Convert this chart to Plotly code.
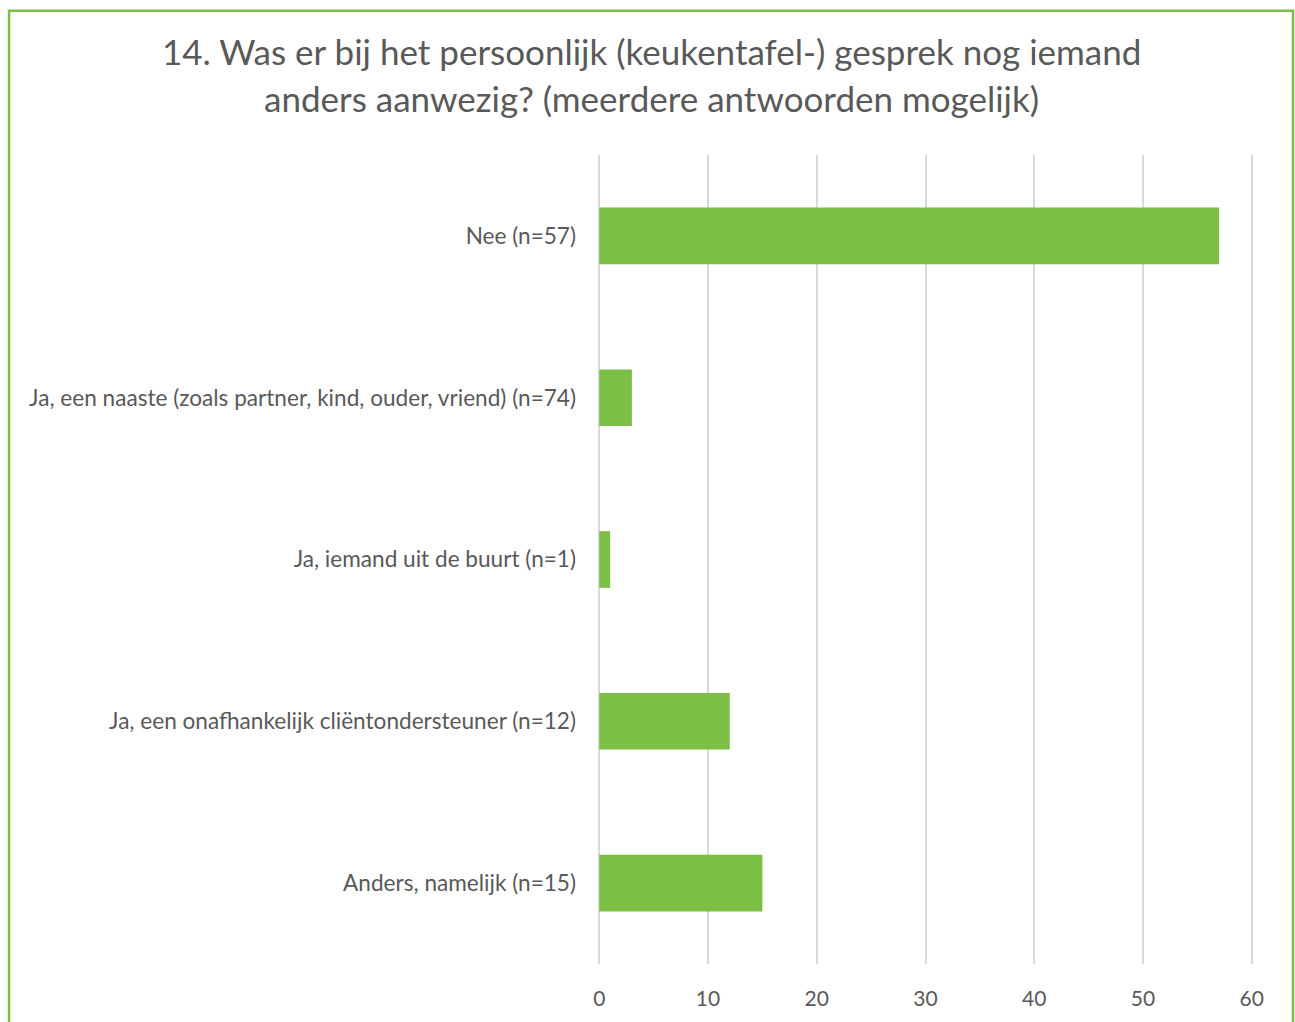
import plotly.graph_objects as go

# Survey answers (top to bottom) and their counts
categories = [
    "Nee (n=57)",
    "Ja, een naaste (zoals partner, kind, ouder, vriend) (n=74)",
    "Ja, iemand uit de buurt (n=1)",
    "Ja, een onafhankelijk cliëntondersteuner (n=12)",
    "Anders, namelijk (n=15)",
]
counts = [57, 3, 1, 12, 15]
x_ticks = [0, 10, 20, 30, 40, 50, 60]

title_lines = [
    "14. Was er bij het persoonlijk (keukentafel-) gesprek nog iemand",
    "anders aanwezig? (meerdere antwoorden mogelijk)",
]

GREEN = "#7bbf45"
TEXT = "#595959"
GRID = "#d9d9d9"
FONT = "Lato"

fig = go.Figure(
    go.Bar(
        y=categories,
        x=counts,
        orientation="h",
        marker=dict(color=GREEN, line=dict(width=0)),
        hoverinfo="x+y",
    )
)

fig.update_layout(
    width=1295,
    height=1022,
    margin=dict(l=596, r=40, t=155, b=54),
    paper_bgcolor="white",
    plot_bgcolor="white",
    bargap=0.65,
    showlegend=False,
    font=dict(family=FONT, color=TEXT, size=22),
    xaxis=dict(
        range=[-0.3, 60.3],
        tickvals=x_ticks,
        showgrid=True,
        gridcolor=GRID,
        gridwidth=2,
        zeroline=True,
        zerolinecolor=GRID,
        zerolinewidth=2,
        showline=False,
        ticks="",
        ticklabelstandoff=20,
        tickfont=dict(family=FONT, size=21, color=TEXT),
    ),
    yaxis=dict(
        categoryorder="array",
        categoryarray=categories[::-1],
        showgrid=False,
        zeroline=False,
        showline=False,
        ticks="",
        ticklabelstandoff=19,
        tickfont=dict(family=FONT, size=22.6, color=TEXT),
    ),
)

# Two-line chart title, centred over the whole chart
for line, y in zip(title_lines, [1.1280, 1.0702]):
    fig.add_annotation(
        text=line,
        xref="paper",
        yref="paper",
        x=0.0835,
        y=y,
        xanchor="center",
        yanchor="middle",
        showarrow=False,
        font=dict(family=FONT, size=35, color=TEXT),
    )

# Green frame around the chart (left, top and right edges)
fig.add_shape(
    type="path",
    xref="paper",
    yref="paper",
    path="M -0.8907,-0.2 L -0.8907,1.1783 L 1.0577,1.1783 L 1.0577,-0.2",
    line=dict(color=GREEN, width=2.5),
    layer="above",
)

fig.write_html("out.html")
